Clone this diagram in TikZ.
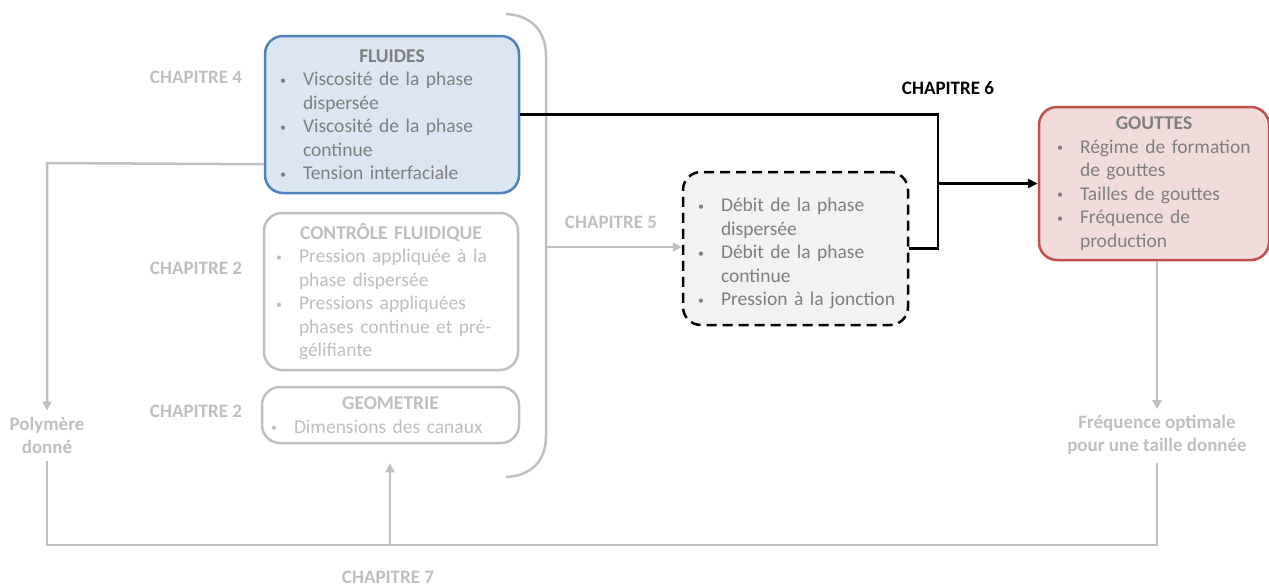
\documentclass[tikz,border=0pt]{standalone}
\usepackage{fontspec}
\setmainfont{Carlito}
\usetikzlibrary{arrows.meta}
\definecolor{bluebd}{RGB}{79,129,189}
\definecolor{bluefill}{RGB}{220,230,242}
\definecolor{redbd}{RGB}{192,80,77}
\definecolor{redfill}{RGB}{242,220,219}
\definecolor{lgray}{RGB}{191,191,191}
\definecolor{dgray}{RGB}{127,127,127}
\definecolor{dashfill}{RGB}{242,242,242}
\newcommand{\smallbul}{\hspace{-4pt}\raisebox{1.5pt}{\fontsize{12}{12}\selectfont\textbullet}}
\newcommand{\bitem}[1]{\par\hangindent=19pt\hangafter=1\noindent\makebox[19pt][l]{\smallbul}#1}
\newcommand{\btitle}[1]{\centering\textbf{#1}\par\raggedright}
\tikzset{
  boxnode/.style={rounded corners=18pt, line width=2.5pt, inner ysep=0pt,
    font=\fontsize{19.5}{23.5}\selectfont},
  chaplabel/.style={inner sep=0pt, font=\fontsize{19}{23}\selectfont\bfseries, text=lgray},
  grayline/.style={draw=lgray, line width=2.5pt},
  grayarrow/.style={grayline, -{Triangle[length=9pt,width=9pt]}},
  blackline/.style={draw=black, line width=2.5pt},
  blackarrow/.style={blackline, -{Triangle[length=10pt,width=9pt]}},
}
\begin{document}
\begin{tikzpicture}[x=1pt,y=-1pt]
\useasboundingbox (0,0) rectangle (1269,587);

% boxes
\node[boxnode, draw=bluebd, fill=bluefill, text=dgray, inner xsep=19pt,
  text width=216pt, minimum height=157pt] (fl) at (392,114.5)
  {\btitle{FLUIDES}\bitem{\mbox{Viscosité de la phase}\newline\mbox{dispersée}}\bitem{\mbox{Viscosité de la phase}\newline\mbox{continue}}\bitem{\mbox{Tension interfaciale}}\par};

\node[boxnode, draw=lgray, fill=white, text=lgray, inner xsep=16pt,
  text width=222pt, minimum height=157pt] (cf) at (391,291.5)
  {\btitle{CONTRÔLE FLUIDIQUE}\bitem{\mbox{Pression appliquée à la}\newline\mbox{phase dispersée}}\bitem{\mbox{Pressions appliquées}\newline\mbox{phases continue et pré-}\newline\mbox{gélifiante}}\par};

\node[boxnode, draw=lgray, fill=white, text=lgray, inner xsep=13pt,
  text width=231pt, minimum height=56pt] (geo) at (390.5,415)
  {\btitle{GEOMETRIE}\bitem{\mbox{Dimensions des canaux}}\par};

\node[boxnode, draw=black, fill=dashfill, text=dgray, inner xsep=19pt,
  dash pattern=on 10pt off 6pt,
  text width=187pt, minimum height=153pt] (db) at (795.5,248.5)
  {\raggedright\bitem{\mbox{Débit de la phase}\newline\mbox{dispersée}}\bitem{\mbox{Débit de la phase}\newline\mbox{continue}}\bitem{\mbox{Pression à la jonction}}\par};

\node[boxnode, draw=redbd, fill=redfill, text=dgray, inner xsep=22pt,
  text width=186pt, minimum height=153pt] (gt) at (1154,183.5)
  {\btitle{GOUTTES}\bitem{\mbox{Régime de formation}\newline\mbox{de gouttes}}\bitem{\mbox{Tailles de gouttes}}\bitem{\mbox{Fréquence de}\newline\mbox{production}}\par};

% labels
\node[chaplabel] (c4) at (196,77) {CHAPITRE 4};
\node[chaplabel] (c2a) at (196,268) {CHAPITRE 2};
\node[chaplabel] (c2b) at (196,411) {CHAPITRE 2};
\node[chaplabel] (c5) at (611,222) {CHAPITRE 5};
\node[chaplabel, text=black] (c6) at (948,88) {CHAPITRE 6};
\node[chaplabel] (c7) at (388,577) {CHAPITRE 7};

\node[chaplabel, align=center] (poly) at (47,435) {Polymère\\donné};
\node[chaplabel, align=center] (freq) at (1157,435) {Fréquence optimale\\pour une taille donnée};

% bracket
\draw[grayline] (506,14) .. controls (530,15) and (546,30) .. (546,56) -- (546,436)
  .. controls (546,462) and (530,476) .. (506,477);

% coordinates
\coordinate (bk) at (546,247);
\coordinate (j1) at (938,114.5);
\coordinate (j2) at (938,183.5);
\coordinate (j3) at (938,248.5);
\coordinate (pl) at (47,163);
\coordinate (bl) at (47,545);
\coordinate (br) at (1157,545);
\coordinate (bm) at (390,545);

% black connectors
\draw[blackline] (fl.east) -- (j1) -- (j3) -- (db.east);
\draw[blackarrow] (j2) -- (gt.west);

% gray connectors
\draw[grayarrow] (bk) -- (db.west |- bk);
\draw[grayarrow] ([yshift=30pt]fl.south west) -- (pl) -- ([yshift=6pt]poly.north);
\draw[grayline] ([yshift=-8pt]poly.south) -- (bl) -- (br) -- ([yshift=-8pt]freq.south);
\draw[grayarrow] (gt.south -| br) -- ([yshift=6pt]freq.north);
\draw[grayarrow] (bm) -- ([yshift=-19pt]geo.south -| bm);
\end{tikzpicture}
\end{document}
